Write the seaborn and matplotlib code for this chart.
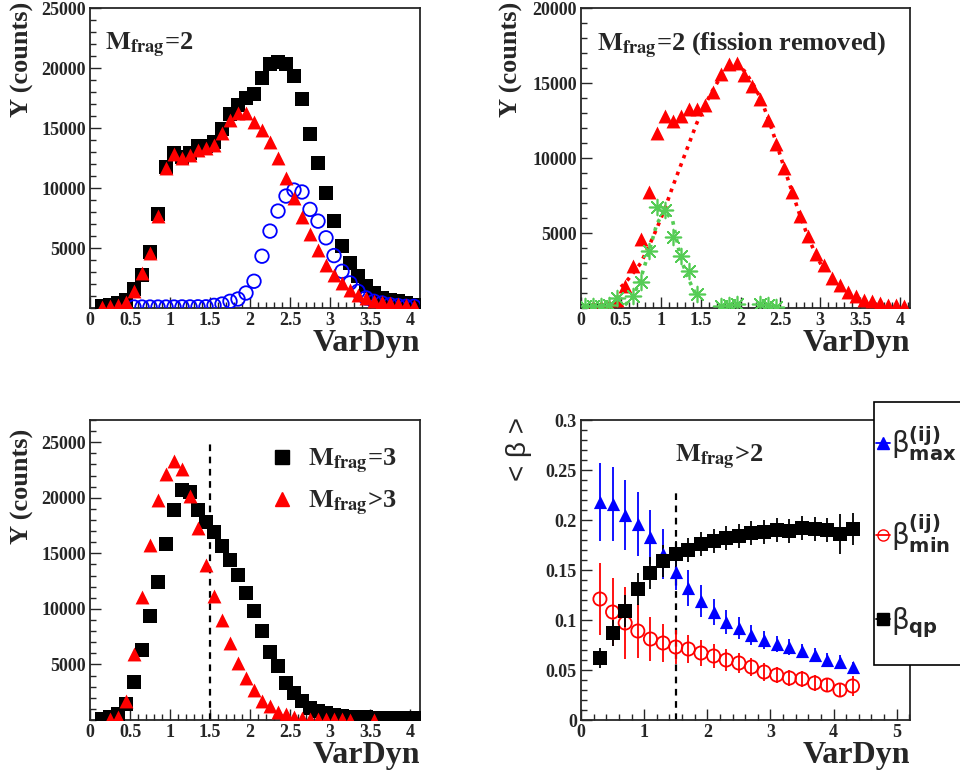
import numpy as np
import matplotlib
matplotlib.use("Agg")
import matplotlib.pyplot as plt
from matplotlib.lines import Line2D
from matplotlib.patches import Rectangle
from matplotlib.ticker import MultipleLocator, FuncFormatter
import seaborn as sns

sns.set_style("ticks")
plt.rcParams["font.family"] = ["Liberation Serif", "DejaVu Serif"]
plt.rcParams["font.weight"] = "normal"
plt.rcParams["axes.labelweight"] = "bold"
plt.rcParams["axes.linewidth"] = 1.3

# ---- data ----
# panel 1 : Mfrag=2
X1 = [0.15, 0.25, 0.35, 0.45, 0.55, 0.65, 0.75, 0.85, 0.95, 1.05,
      1.15, 1.25, 1.35, 1.45, 1.55, 1.65, 1.75, 1.85, 1.95, 2.05,
      2.15, 2.25, 2.35, 2.45, 2.55, 2.65, 2.75, 2.85, 2.95, 3.05,
      3.15, 3.25, 3.35, 3.45, 3.55, 3.65, 3.75, 3.85, 3.95, 4.05]
ALL1 = [140, 280, 420, 700, 1590, 2790, 4680, 7800, 11780, 12900,
        12620, 12950, 13510, 13510, 13840, 14900, 16160, 16910, 17470, 17830,
        19140, 20330, 20530, 20330, 19300, 17410, 14480, 12120, 9610, 7240,
        5150, 3760, 2650, 1810, 1250, 840, 700, 560, 420, 280]
NOFIS1 = [100, 150, 250, 500, 1400, 2900, 4600, 7700, 11700, 12800,
          12500, 12750, 13200, 13300, 13600, 14550, 15700, 16250, 16250, 15500,
          14800, 13850, 12500, 10800, 9200, 7600, 6130, 4800, 3620, 2790,
          2090, 1530, 1110, 840, 560, 470, 420, 330, 280, 200]
X1_FIS = [0.55, 0.65, 0.75, 0.85, 0.95, 1.05, 1.15, 1.25, 1.35, 1.45,
          1.55, 1.65, 1.75, 1.85, 1.95, 2.05, 2.15, 2.25, 2.35, 2.45,
          2.55, 2.65, 2.75, 2.85, 2.95, 3.05, 3.15, 3.25, 3.35, 3.45,
          3.55, 3.65, 3.75, 3.85, 3.95, 4.05]
FIS1 = [80, 80, 80, 80, 80, 80, 90, 90, 100, 100,
        220, 330, 560, 750, 1250, 2230, 4320, 6410, 8080, 9330,
        9830, 9670, 8220, 7240, 5850, 4370, 3060, 2090, 1390, 840,
        560, 420, 280, 200, 140, 140]

# panel 2 : Mfrag=2, fission removed
X2 = X1
RED2 = [100, 100, 150, 560, 1490, 2780, 4610, 7730, 11690, 12800,
        12470, 12800, 13300, 13250, 13520, 14410, 15590, 16260, 16330, 15520,
        14770, 13920, 12540, 10910, 9350, 7730, 6120, 4790, 3630, 2900,
        2000, 1560, 1050, 780, 560, 450, 330, 220, 220, 160]
X2_REDFIT = [0.5, 0.55, 0.65, 0.75, 0.85, 0.95, 1.05, 1.15, 1.25, 1.35,
             1.45, 1.55, 1.65, 1.75, 1.85, 1.95, 2.05, 2.15, 2.25, 2.35,
             2.45, 2.55, 2.65, 2.75, 2.85, 2.95, 3.05]
REDFIT2 = [1400, 1650, 2300, 3000, 4100, 5300, 6600, 8100, 9500, 10900,
           12300, 13500, 14500, 15400, 16000, 16200, 15800, 15000, 14000, 12600,
           11000, 9300, 7700, 6100, 4700, 3500, 2500]
X2_GREEN = [0.05, 0.15, 0.25, 0.35, 0.45, 0.65, 0.75, 0.85, 0.95, 1.05,
            1.15, 1.25, 1.35, 1.45, 1.75, 1.85, 1.95, 2.25, 2.35, 2.45]
GREEN2 = [110, 110, 110, 220, 670, 780, 1710, 3790, 6750, 6530,
          4740, 3500, 2450, 960, 110, 220, 290, 290, 220, 50]
X2_GREENFIT = [0.55, 0.65, 0.75, 0.85, 0.95, 1.05, 1.15, 1.25, 1.35, 1.45]
GREENFIT2 = [200, 700, 2000, 3700, 5600, 6500, 5800, 3300, 1900, 800]

# panel 3 : Mfrag=3 and Mfrag>3
X3 = X1
M3 = [120, 250, 510, 1410, 3410, 6290, 9400, 12400, 15870, 18920,
      20720, 20480, 18920, 17780, 16890, 15630, 14430, 13080, 11440, 9790,
      7990, 6140, 4850, 3290, 2400, 1710, 1110, 810, 600, 480,
      360, 300, 270, 240, 210, 200, 180, 160, 150, 140]
X3_GT = [0.25, 0.35, 0.45, 0.55, 0.65, 0.75, 0.85, 0.95, 1.05, 1.15,
         1.25, 1.35, 1.45, 1.55, 1.65, 1.75, 1.85, 1.95, 2.05, 2.15,
         2.25, 2.35, 2.45, 2.55, 2.65, 2.75, 2.85, 2.95, 3.05, 3.15,
         3.25, 3.55]
MGT3 = [60, 300, 1700, 5900, 11080, 15780, 19820, 22160, 23350, 22580,
        20180, 17280, 13920, 11140, 8980, 6950, 5150, 3800, 2660, 1710,
        1260, 720, 510, 300, 210, 120, 90, 60, 60, 50,
        40, 30]

# panel 4 : <beta>, Mfrag>2
X4 = [0.3, 0.5, 0.7, 0.9, 1.1, 1.3, 1.5, 1.7, 1.9, 2.1, 2.3,
      2.5, 2.7, 2.9, 3.1, 3.3, 3.5, 3.7, 3.9, 4.1, 4.3]
BMAX = [0.218, 0.216, 0.205, 0.196, 0.183, 0.166, 0.148, 0.132, 0.119, 0.108, 0.098,
        0.092, 0.085, 0.080, 0.076, 0.073, 0.069, 0.065, 0.060, 0.058, 0.053]
BMAX_ERR = [0.039, 0.037, 0.035, 0.032, 0.027, 0.025, 0.018, 0.018, 0.016, 0.013, 0.012,
            0.011, 0.010, 0.009, 0.008, 0.008, 0.007, 0.007, 0.007, 0.007, 0.005]
BMIN = [0.121, 0.108, 0.097, 0.089, 0.081, 0.077, 0.073, 0.071, 0.067, 0.064, 0.060,
        0.057, 0.053, 0.048, 0.045, 0.042, 0.041, 0.037, 0.035, 0.030, 0.034]
BMIN_ERR = [0.036, 0.034, 0.036, 0.027, 0.022, 0.019, 0.017, 0.014, 0.013, 0.012, 0.011,
            0.010, 0.009, 0.009, 0.008, 0.008, 0.008, 0.008, 0.007, 0.006, 0.010]
BQP = [0.062, 0.087, 0.109, 0.131, 0.147, 0.159, 0.166, 0.170, 0.176, 0.179, 0.182,
       0.184, 0.187, 0.188, 0.190, 0.189, 0.192, 0.191, 0.190, 0.186, 0.191]
BQP_ERR = [0.010, 0.013, 0.016, 0.016, 0.016, 0.016, 0.013, 0.012, 0.012, 0.012, 0.012,
           0.012, 0.012, 0.012, 0.012, 0.012, 0.012, 0.012, 0.012, 0.020, 0.016]

CUT_X = 1.5
CUT_TOP3 = 25000
CUT_TOP4 = 0.23

GREEN = "#55cc55"
ASTER = (8, 2, 0)
fmt = FuncFormatter(lambda v, p: f"{v:g}")

fig = plt.figure(figsize=(9.6, 7.8), dpi=100)
ax1 = fig.add_axes([0.09375, 0.6051, 0.34375, 0.3846])
ax2 = fig.add_axes([0.6052, 0.6051, 0.3427, 0.3846])
ax3 = fig.add_axes([0.09375, 0.0769, 0.34375, 0.3846])
ax4 = fig.add_axes([0.6052, 0.0769, 0.3427, 0.3846])


def style(ax, xmax, ymax, xmaj, xmin, ymin, yticks):
    ax.set_xlim(0, xmax)
    ax.set_ylim(0, ymax)
    ax.xaxis.set_major_locator(MultipleLocator(xmaj))
    ax.xaxis.set_minor_locator(MultipleLocator(xmin))
    ax.set_yticks(yticks)
    ax.yaxis.set_minor_locator(MultipleLocator(ymin))
    ax.xaxis.set_major_formatter(fmt)
    ax.yaxis.set_major_formatter(fmt)
    ax.tick_params(which="both", direction="in", top=False, right=False,
                   labelsize=13, width=1)
    ax.tick_params(which="major", length=8, pad=3)
    ax.tick_params(which="minor", length=4)
    for lbl in ax.get_xticklabels() + ax.get_yticklabels():
        lbl.set_fontweight("bold")
    for s in ax.spines.values():
        s.set_visible(True)
    ax.set_xlabel("VarDyn", fontsize=23, loc="right")
    ax.xaxis.set_label_coords(1.0, -0.07)


TITLE = dict(fontsize=19, fontweight="bold", math_fontfamily="stix", va="baseline")

# ---- panel 1 ----
sns.scatterplot(x=X1, y=ALL1, marker="s", color="black", s=95, linewidth=0, ax=ax1, zorder=3)
sns.scatterplot(x=X1_FIS, y=FIS1, marker="o", facecolor="none", edgecolor="blue",
                s=95, linewidth=1.3, ax=ax1, zorder=4)
sns.scatterplot(x=X1, y=NOFIS1, marker="^", color="red", s=100, linewidth=0, ax=ax1, zorder=5)
style(ax1, 4.125, 25000, 0.5, 0.1, 1000, [5000, 10000, 15000, 20000, 25000])
ax1.set_ylabel("Y (counts)", fontsize=19, loc="top")
ax1.yaxis.set_label_coords(-0.17, 1.02)
ax1.text(0.045, 0.86, r"$\mathbf{M}_{\mathbf{frag}}$=2", transform=ax1.transAxes, **TITLE)

# ---- panel 2 ----
sns.scatterplot(x=X2, y=RED2, marker="^", color="red", s=100, linewidth=0, ax=ax2, zorder=3)
sns.lineplot(x=X2_REDFIT, y=REDFIT2, color="red", lw=2.6, ax=ax2, zorder=4,
             linestyle=(0, (1.0, 1.5)))
sns.scatterplot(x=X2_GREEN, y=GREEN2, marker=ASTER, color=GREEN, s=130, linewidth=1.2,
                ax=ax2, zorder=5)
sns.lineplot(x=X2_GREENFIT, y=GREENFIT2, color=GREEN, lw=2.6, ax=ax2, zorder=6,
             linestyle=(0, (1.0, 1.5)))
style(ax2, 4.125, 20000, 0.5, 0.1, 1000, [5000, 10000, 15000, 20000])
ax2.set_ylabel("Y (counts)", fontsize=19, loc="top")
ax2.yaxis.set_label_coords(-0.175, 1.02)
ax2.text(0.049, 0.855, r"$\mathbf{M}_{\mathbf{frag}}$=2 (fission removed)",
         transform=ax2.transAxes, **TITLE)

# ---- panel 3 ----
sns.scatterplot(x=X3, y=M3, marker="s", color="black", s=95, linewidth=0, ax=ax3, zorder=3)
sns.scatterplot(x=X3_GT, y=MGT3, marker="^", color="red", s=100, linewidth=0, ax=ax3, zorder=4)
ax3.vlines(CUT_X, 0, CUT_TOP3, colors="black", linestyles=(0, (3, 2.5)), lw=1.6, zorder=2)
style(ax3, 4.125, 27000, 0.5, 0.1, 1000, [5000, 10000, 15000, 20000, 25000])
ax3.set_ylabel("Y (counts)", fontsize=19, loc="top")
ax3.yaxis.set_label_coords(-0.17, 0.97)
h3 = [Line2D([], [], marker="s", color="black", ls="none", markersize=10),
      Line2D([], [], marker="^", color="red", ls="none", markersize=10)]
ax3.legend(h3, [r"$\mathbf{M}_{\mathbf{frag}}$=3", r"$\mathbf{M}_{\mathbf{frag}}$>3"],
           loc="upper left", bbox_to_anchor=(0.47, 0.99), frameon=False,
           handlelength=1.0, handletextpad=0.5, labelspacing=0.5,
           prop={"size": 19, "weight": "bold", "math_fontfamily": "stix"})

# ---- panel 4 ----
ax4.errorbar(X4, BMAX, yerr=BMAX_ERR, fmt="none", ecolor="blue", elinewidth=1.3, zorder=2)
ax4.errorbar(X4, BMIN, yerr=BMIN_ERR, fmt="none", ecolor="red", elinewidth=1.3, zorder=2)
ax4.errorbar(X4, BQP, yerr=BQP_ERR, fmt="none", ecolor="black", elinewidth=1.3, zorder=2)
sns.scatterplot(x=X4, y=BMAX, marker="^", color="blue", s=90, linewidth=0, ax=ax4, zorder=3)
sns.scatterplot(x=X4, y=BMIN, marker="o", facecolor="none", edgecolor="red",
                s=90, linewidth=1.3, ax=ax4, zorder=4)
sns.scatterplot(x=X4, y=BQP, marker="s", color="black", s=90, linewidth=0, ax=ax4, zorder=5)
ax4.vlines(CUT_X, 0, CUT_TOP4, colors="black", linestyles=(0, (3, 2.5)), lw=1.6, zorder=1)
style(ax4, 5.21, 0.3, 1, 0.2, 0.01, [0, 0.05, 0.1, 0.15, 0.2, 0.25, 0.3])
ax4.set_ylabel("< β >", fontsize=20, loc="top", fontweight="normal",
               fontfamily=["Liberation Sans", "DejaVu Sans"])
ax4.yaxis.set_label_coords(-0.15, 1.01)
ax4.text(0.285, 0.86, r"$\mathbf{M}_{\mathbf{frag}}$>2", transform=ax4.transAxes, **TITLE)

# legend box of panel 4 (runs past the right edge, as in the reference)
fig.add_artist(Rectangle((874 / 960, 1 - 665 / 780), 120 / 960, 263 / 780,
                         transform=fig.transFigure, facecolor="white",
                         edgecolor="black", lw=1.2, zorder=10))
h4 = [Line2D([], [], marker="^", color="blue", markersize=8, lw=1.3),
      Line2D([], [], marker="o", color="red", mfc="none", markersize=8, lw=1.3),
      Line2D([], [], marker="s", color="black", markersize=8, lw=1.3)]
lab4 = [r"$\mathrm{\beta}^{\mathbf{(ij)}}_{\mathbf{max}}$",
        r"$\mathrm{\beta}^{\mathbf{(ij)}}_{\mathbf{min}}$",
        r"$\mathrm{\beta}_{\mathbf{qp}}$"]
leg = fig.legend(h4, lab4, loc="upper left", bbox_to_anchor=(876 / 960, 1 - 424 / 780),
                 frameon=False, borderaxespad=0, borderpad=0,
                 handlelength=0.5, handletextpad=0.05, labelspacing=1.8,
                 prop={"size": 20, "weight": "normal", "family": "Liberation Sans",
                       "math_fontfamily": "dejavusans"})
leg.set_zorder(11)

fig.savefig("out.png", dpi=100)
